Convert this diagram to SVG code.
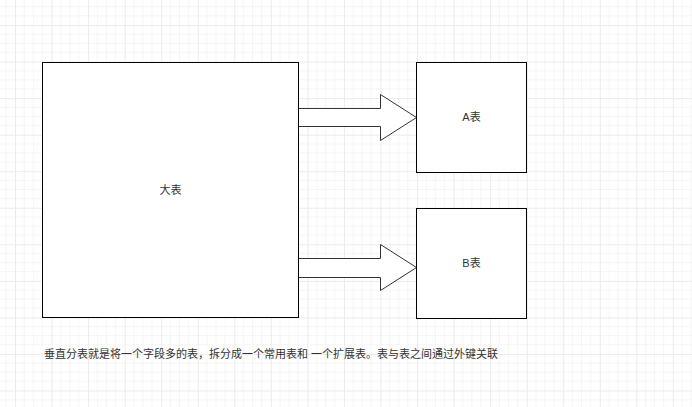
<svg xmlns="http://www.w3.org/2000/svg" width="692" height="407" viewBox="0 0 692 407">
<style>
.box{fill:#ffffff;stroke:#000000;stroke-width:1}
.arrow{fill:#ffffff;stroke:#333333;stroke-width:1}
.lbl{font-family:"Liberation Sans","Noto Sans CJK SC",sans-serif;font-size:11px;fill:#333333;text-anchor:middle;dominant-baseline:central}
.note{font-family:"Liberation Sans","Noto Sans CJK SC",sans-serif;font-size:11px;fill:#333333}
</style>
<defs>
<pattern id="grid" patternUnits="userSpaceOnUse" x="15" y="25" width="36.55" height="36.55">
<path d="M9.14 0V36.55M18.28 0V36.55M27.41 0V36.55M0 9.14H36.55M0 18.28H36.55M0 27.41H36.55" stroke="#f5f5f5" stroke-width="1" fill="none"/>
<path d="M0.5 0V36.55M0 0.5H36.55" stroke="#ebebeb" stroke-width="1" fill="none"/>
</pattern>
</defs>
<rect width="692" height="407" fill="#ffffff"/>
<rect width="692" height="407" fill="url(#grid)"/>
<g id="connectors">
<path class="arrow" d="M298.5 108.5H380.5V94.5L416.5 117.5L380.5 140.5V126.5H298.5Z"/>
<path class="arrow" d="M298.5 258.5H380.5V244.5L416.5 267.5L380.5 290.5V277.5H298.5Z"/>
</g>
<g id="big">
<rect class="box" x="42.5" y="62.5" width="256" height="255"/>
<text class="lbl" x="170.5" y="190">大表</text>
</g>
<g id="a">
<rect class="box" x="416.5" y="62.5" width="110" height="110"/>
<text class="lbl" x="471.5" y="117">A表</text>
</g>
<g id="b">
<rect class="box" x="416.5" y="208.5" width="110" height="110"/>
<text class="lbl" x="471.5" y="263">B表</text>
</g>
<g id="caption">
<text class="note" x="44" y="358">垂直分表就是将一个字段多的表，拆分成一个常用表和 一个扩展表。表与表之间通过外键关联</text>
</g>
</svg>
